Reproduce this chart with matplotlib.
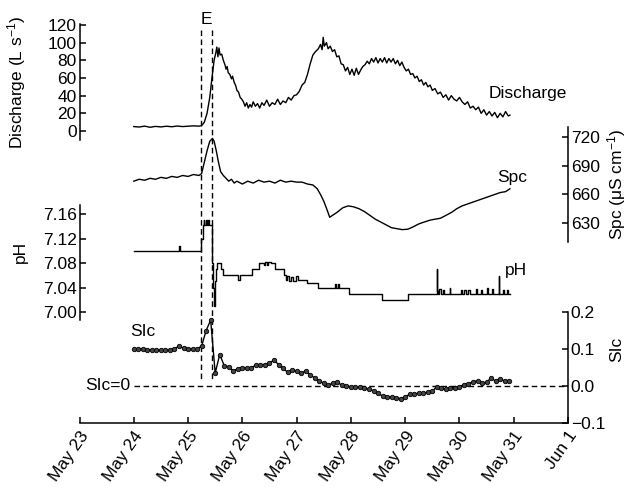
import numpy as np
import matplotlib
matplotlib.use('Agg')
import matplotlib.pyplot as plt

plt.rcParams['font.family'] = ['Liberation Sans', 'DejaVu Sans']
plt.rcParams['mathtext.fontset'] = 'custom'
plt.rcParams['mathtext.rm'] = 'Liberation Sans'
plt.rcParams['mathtext.it'] = 'Liberation Sans:italic'
plt.rcParams['font.size'] = 12.5

# x 轴: 距 5 月 23 日的天数
tick_days = [0, 1, 2, 3, 4, 5, 6, 7, 8, 9]
tick_labels = ['May 23', 'May 24', 'May 25', 'May 26', 'May 27',
               'May 28', 'May 29', 'May 30', 'May 31', 'Jun 1']
event_days = [2.23, 2.45]

# 流量 (L/s)
q_day = [1.00, 1.10, 1.20, 1.30, 1.40, 1.50, 1.60, 1.70, 1.80, 1.90, 2.00, 2.10, 2.20, 2.25,
         2.30, 2.35, 2.40, 2.44, 2.48, 2.51, 2.53, 2.55, 2.57, 2.59, 2.62, 2.65, 2.68, 2.70,
         2.72, 2.74, 2.77, 2.80, 2.82, 2.85, 2.88, 2.90, 2.93, 2.96, 2.99, 3.02, 3.05, 3.08,
         3.11, 3.14, 3.17, 3.20, 3.24, 3.28, 3.32, 3.36, 3.40, 3.45, 3.50, 3.55, 3.60, 3.65,
         3.70, 3.75, 3.80, 3.85, 3.90, 3.95, 4.00, 4.05, 4.10, 4.15, 4.20, 4.25, 4.30, 4.35,
         4.40, 4.44, 4.47, 4.49, 4.51, 4.55, 4.58, 4.62, 4.66, 4.70, 4.74, 4.78, 4.82, 4.86,
         4.90, 4.94, 4.98, 5.02, 5.06, 5.10, 5.14, 5.18, 5.22, 5.26, 5.30, 5.34, 5.38, 5.42,
         5.46, 5.50, 5.54, 5.58, 5.62, 5.66, 5.70, 5.74, 5.78, 5.82, 5.86, 5.90, 5.94, 5.98,
         6.02, 6.06, 6.10, 6.14, 6.18, 6.22, 6.26, 6.30, 6.34, 6.38, 6.42, 6.46, 6.50, 6.55,
         6.60, 6.65, 6.70, 6.75, 6.80, 6.85, 6.90, 6.95, 7.00, 7.05, 7.10, 7.15, 7.20, 7.25,
         7.30, 7.35, 7.40, 7.45, 7.50, 7.55, 7.60, 7.65, 7.70, 7.75, 7.80, 7.85, 7.90, 7.93]
q_val = [5, 4.5, 5.5, 4.2, 5.2, 4.6, 5.4, 4.8, 5.6, 5.0, 5.4, 5.8, 5.5, 6,
         10, 20, 38, 60, 80, 88, 95, 84, 94, 86, 87, 80, 75, 70,
         73, 66, 64, 59, 62, 55, 51, 46, 44, 38, 36, 33, 28, 32,
         26, 30, 27, 33, 28, 31, 26, 32, 29, 35, 28, 32, 30, 36,
         30, 34, 32, 38, 35, 40, 41, 45, 52, 55, 64, 76, 86, 90,
         93, 98, 92, 106, 96, 100, 93, 96, 90, 92, 84, 85, 76, 75,
         68, 72, 64, 70, 63, 71, 64, 69, 73, 75, 79, 76, 82, 78,
         83, 77, 82, 78, 83, 77, 82, 78, 82, 76, 80, 74, 78, 72,
         68, 70, 64, 65, 60, 62, 56, 58, 52, 55, 50, 52, 46, 48,
         42, 44, 38, 41, 35, 40, 36, 34, 38, 33, 30, 33, 26, 28,
         24, 27, 20, 24, 18, 22, 17, 21, 15, 20, 16, 22, 17, 18]

# 电导率 Spc (μS/cm)
spc_day = [1.00, 1.10, 1.20, 1.30, 1.40, 1.50, 1.60, 1.70, 1.80, 1.90, 2.00, 2.10, 2.20, 2.25,
           2.30, 2.35, 2.40, 2.45, 2.48, 2.52, 2.56, 2.60, 2.65, 2.70, 2.75, 2.80, 2.85, 2.90,
           3.00, 3.10, 3.20, 3.30, 3.40, 3.50, 3.60, 3.70, 3.80, 3.90, 4.00, 4.10, 4.20, 4.30,
           4.38, 4.44, 4.50, 4.56, 4.61, 4.66, 4.74, 4.85, 4.95, 5.05, 5.15, 5.25, 5.35, 5.45,
           5.55, 5.65, 5.75, 5.85, 5.95, 6.05, 6.15, 6.25, 6.35, 6.46, 6.55, 6.65, 6.75, 6.85,
           6.95, 7.05, 7.15, 7.25, 7.35, 7.45, 7.55, 7.65, 7.75, 7.85, 7.93]
spc_val = [674, 676, 675, 677, 676, 678, 677, 679, 678, 680, 679, 681, 680, 682,
           694, 706, 716, 719, 716, 706, 694, 684, 680, 677, 674, 676, 672, 674,
           671, 674, 672, 675, 673, 674, 672, 675, 673, 674, 673, 673, 671, 670,
           666, 660, 653, 644, 636, 638, 641, 646, 648, 647, 645, 642, 638, 634,
           631, 628, 625, 624, 623, 623.5, 626, 629, 631, 633, 634, 635, 638, 641,
           645, 648, 650, 652, 654, 656, 658, 660, 662, 663, 666]

# pH (阶梯)
ph_day = [1.00, 1.84, 1.85, 2.24, 2.27, 2.29, 2.30, 2.33, 2.34, 2.37, 2.38, 2.45, 2.46, 2.47,
          2.49, 2.51, 2.53, 2.60, 2.64, 2.92, 2.96, 3.18, 3.30, 3.40, 3.42, 3.45, 3.48, 3.52,
          3.60, 3.76, 3.80, 3.83, 3.86, 3.90, 3.94, 3.98, 4.02, 4.19, 4.40, 4.70, 4.73, 4.76,
          4.79, 4.96, 5.57, 6.06, 6.58, 6.59, 6.61, 6.63, 6.66, 6.70, 6.72, 6.82, 6.83, 7.02,
          7.05, 7.08, 7.12, 7.15, 7.20, 7.30, 7.32, 7.40, 7.42, 7.50, 7.52, 7.60, 7.62, 7.72,
          7.73, 7.80, 7.82, 7.88, 7.90, 7.93]
ph_val = [7.100, 7.108, 7.100, 7.120, 7.142, 7.150, 7.142, 7.150, 7.142, 7.150, 7.142, 7.080, 7.040, 7.010,
          7.050, 7.070, 7.080, 7.070, 7.060, 7.052, 7.060, 7.070, 7.080, 7.076, 7.082, 7.077, 7.082, 7.080,
          7.070, 7.060, 7.052, 7.058, 7.050, 7.057, 7.050, 7.058, 7.052, 7.047, 7.040, 7.046, 7.040, 7.046,
          7.040, 7.030, 7.020, 7.030, 7.070, 7.035, 7.030, 7.038, 7.030, 7.036, 7.030, 7.040, 7.030, 7.036,
          7.030, 7.036, 7.030, 7.036, 7.030, 7.038, 7.030, 7.036, 7.030, 7.040, 7.030, 7.038, 7.030, 7.058,
          7.030, 7.036, 7.030, 7.036, 7.030, 7.030]

# 方解石饱和指数 SIc (每 2 小时)
sic_day = np.arange(84) / 12.0 + 1.0
sic_val = [0.100, 0.099, 0.100, 0.098, 0.097, 0.097, 0.096, 0.098, 0.097, 0.100, 0.108, 0.102,
           0.100, 0.100, 0.100, 0.108, 0.150, 0.178, 0.035, 0.085, 0.055, 0.052, 0.041, 0.047,
           0.050, 0.049, 0.050, 0.056, 0.058, 0.058, 0.062, 0.070, 0.058, 0.048, 0.037, 0.043,
           0.040, 0.034, 0.041, 0.030, 0.022, 0.014, 0.007, 0.002, 0.008, 0.010, 0.002, 0.000,
           -0.002, -0.003, -0.004, -0.006, -0.008, -0.013, -0.020, -0.027, -0.029, -0.031, -0.032, -0.034,
           -0.030, -0.022, -0.021, -0.020, -0.019, -0.017, -0.014, -0.002, -0.006, -0.008, -0.006, -0.005,
           -0.002, 0.004, 0.006, 0.012, 0.014, 0.008, 0.010, 0.022, 0.013, 0.020, 0.013, 0.014]

W, H = 630, 487
fig = plt.figure(figsize=(W / 100, H / 100), dpi=100)
x0, x1 = 79.5, 568


def add_panel(top, bot):
    return fig.add_axes([x0 / W, 1 - bot / H, (x1 - x0) / W, (bot - top) / H])


def clean(ax, side):
    for s in ['left', 'right', 'top', 'bottom']:
        ax.spines[s].set_visible(s == side)
    ax.spines[side].set_linewidth(1.1)
    ax.patch.set_alpha(0)
    ax.set_xlim(0, 9)
    ax.set_xticks([])
    ax.tick_params(axis='y', direction='in', length=4, width=1.1, pad=2,
                   left=(side == 'left'), right=(side == 'right'),
                   labelleft=(side == 'left'), labelright=(side == 'right'))


lc = 'black'
lw = 1.0

# 背景层 (像素坐标), 画 E 事件虚线
bg = add_panel(0, 423)
bg.set_xlim(0, 9)
bg.set_ylim(423, 0)
bg.axis('off')
for d in event_days:
    bg.plot([d, d], [30, 382], ls='--', color=lc, lw=1.0, dashes=(4, 2.5))
bg.text(np.mean(event_days), 20, 'E', ha='center', va='center')

# 流量
ax1 = add_panel(24, 140)
clean(ax1, 'left')
ax1.set_ylim(-10.2, 121.1)
ax1.set_yticks([0, 20, 40, 60, 80, 100, 120])
ax1.plot(q_day, q_val, color=lc, lw=lw)
ax1.set_ylabel(r'Discharge (L s$^{-1}$)')
ax1.yaxis.set_label_coords(-0.105, 0.5)
ax1.text(7.53, 42, 'Discharge', ha='left', va='center')

# Spc
ax2 = add_panel(127, 242)
clean(ax2, 'right')
ax2.set_ylim(610, 731)
ax2.set_yticks([630, 660, 690, 720])
ax2.plot(spc_day, spc_val, color=lc, lw=lw)
ax2.yaxis.set_label_position('right')
ax2.set_ylabel(r'Spc (μS cm$^{-1}$)', labelpad=4)
ax2.text(7.69, 678, 'Spc', ha='left', va='center')

# pH
ax3 = add_panel(205, 320)
clean(ax3, 'left')
ax3.set_ylim(6.987, 7.1747)
ax3.set_yticks([7.00, 7.04, 7.08, 7.12, 7.16])
ax3.set_yticklabels(['7.00', '7.04', '7.08', '7.12', '7.16'])
ax3.plot(ph_day, ph_val, color=lc, lw=lw, drawstyle='steps-post')
ax3.set_ylabel('pH')
ax3.yaxis.set_label_coords(-0.105, 0.59)
ax3.text(7.84, 7.0686, 'pH', ha='left', va='center')

# SIc
ax4 = add_panel(312, 423)
clean(ax4, 'right')
ax4.spines['bottom'].set_visible(True)
ax4.spines['bottom'].set_linewidth(1.1)
ax4.set_ylim(-0.1, 0.2)
ax4.set_yticks([-0.1, 0.0, 0.1, 0.2])
ax4.set_yticklabels(['\u22120.1', '0.0', '0.1', '0.2'])
ax4.set_xticks(tick_days)
ax4.set_xticklabels(tick_labels, rotation=55, ha='right', rotation_mode='anchor')
ax4.tick_params(axis='x', direction='in', length=4, width=1.1, pad=4)
ax4.plot([1.0, 9.0], [0, 0], ls='--', color=lc, lw=1.0, dashes=(4, 2.5))
ax4.plot(sic_day, sic_val, color=lc, lw=lw, marker='o', ms=3.2,
         mfc='#444444', mec='black', mew=0.6)
ax4.yaxis.set_label_position('right')
ax4.set_ylabel('SIc')
ax4.yaxis.set_label_coords(1.085, 0.66)
ax4.text(0.94, 0.146, 'SIc', ha='left', va='center')
ax4.text(0.94, 0.0, 'SIc=0', ha='right', va='center')

fig.savefig('out.png', dpi=100)
